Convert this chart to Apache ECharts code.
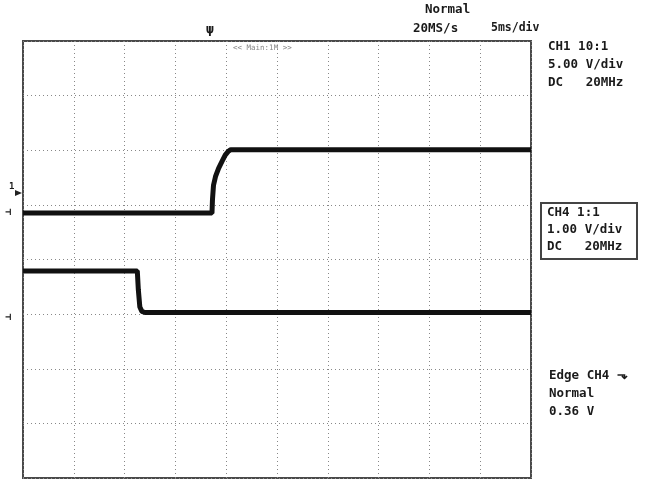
<!DOCTYPE html>
<html>
<head>
<meta charset="utf-8">
<script src="https://cdn.jsdelivr.net/npm/echarts@6/dist/echarts.min.js"></script>
<style>
html,body{margin:0;padding:0;background:#fff;}
#chart{width:654px;height:487px;}
</style>
</head>
<body>
<div id="chart"></div>
<script>
// Time in divisions (10 div across), amplitude in screen divisions (8 div tall, centre = 0)
const ch1Time  = [0, 3.72, 3.73, 3.75, 3.79, 3.85, 3.92, 3.98, 4.04, 4.09, 10];
const ch1Value = [0.85, 0.85, 1.10, 1.36, 1.52, 1.67, 1.80, 1.91, 1.98, 2.01, 2.01];
const ch4Time  = [0, 2.25, 2.27, 2.30, 2.34, 2.40, 2.50, 10];
const ch4Value = [-0.21, -0.21, -0.55, -0.87, -0.95, -0.97, -0.97, -0.97];

const headerTop   = ['Normal'];
const headerLine  = ['20MS/s', '5ms/div'];
const ch1Info = ['CH1 10:1', '5.00 V/div', 'DC   20MHz'];
const ch4Info = ['CH4 1:1', '1.00 V/div', 'DC   20MHz'];
const trigInfo = ['Edge CH4 ⬎', 'Normal', '0.36 V'];
const zoomTag = '<< Main:1M >>';

const pair = (t, v) => t.map((x, i) => [x, v[i]]);
const FONT = '"DejaVu Sans Mono", "Liberation Mono", monospace';
const MAIN = 'bold 12.5px ' + FONT;
const txt = (x, y, s, font, fill) => ({
  type: 'text', left: x, top: y,
  style: { text: s, font: font || MAIN, fill: fill || '#1a1a1a' }
});

const chart = echarts.init(document.getElementById('chart'));
chart.setOption({
  animation: false,
  backgroundColor: '#fff',
  grid: { left: 23, top: 41, width: 508, height: 437, show: true,
          borderColor: '#4a4a4a', borderWidth: 2, backgroundColor: 'transparent' },
  xAxis: { type: 'value', min: 0, max: 10, interval: 1,
           axisLine: { show: false }, axisTick: { show: false }, axisLabel: { show: false },
           splitLine: { show: true, lineStyle: { color: '#888', type: [1, 3], width: 1 } } },
  yAxis: { type: 'value', min: -4, max: 4, interval: 1,
           axisLine: { show: false }, axisTick: { show: false }, axisLabel: { show: false },
           splitLine: { show: true, lineStyle: { color: '#888', type: [1, 3], width: 1 } } },
  series: [
    { type: 'line', data: pair(ch1Time, ch1Value), symbol: 'none', smooth: false,
      lineStyle: { color: '#111', width: 5 } },
    { type: 'line', data: pair(ch4Time, ch4Value), symbol: 'none', smooth: false,
      lineStyle: { color: '#111', width: 5 } }
  ],
  graphic: [
    txt(425, 3, headerTop[0]),
    txt(413, 22, headerLine[0]),
    txt(491, 22, headerLine[1], 'bold 11.5px ' + FONT),
    txt(206, 23, 'ψ', 'bold 13px ' + FONT),
    txt(233, 44, zoomTag, '7.5px ' + FONT, '#888'),
    txt(548, 40, ch1Info[0]), txt(548, 58, ch1Info[1]), txt(548, 76, ch1Info[2]),
    { type: 'rect', shape: { x: 541, y: 203, width: 96, height: 56 },
      style: { fill: 'none', stroke: '#444', lineWidth: 2 } },
    txt(547, 206, ch4Info[0]), txt(547, 223, ch4Info[1]), txt(547, 240, ch4Info[2]),
    txt(549, 369, trigInfo[0]), txt(549, 387, trigInfo[1]), txt(549, 405, trigInfo[2]),
    txt(9, 182, '1', 'bold 9px ' + FONT),
    { type: 'polygon', shape: { points: [[15, 190], [22, 193], [15, 196]] }, style: { fill: '#222' } },
    txt(5, 207, '⊣', 'bold 10px ' + FONT),
    txt(5, 312, '⊣', 'bold 10px ' + FONT)
  ]
});
</script>
</body>
</html>
